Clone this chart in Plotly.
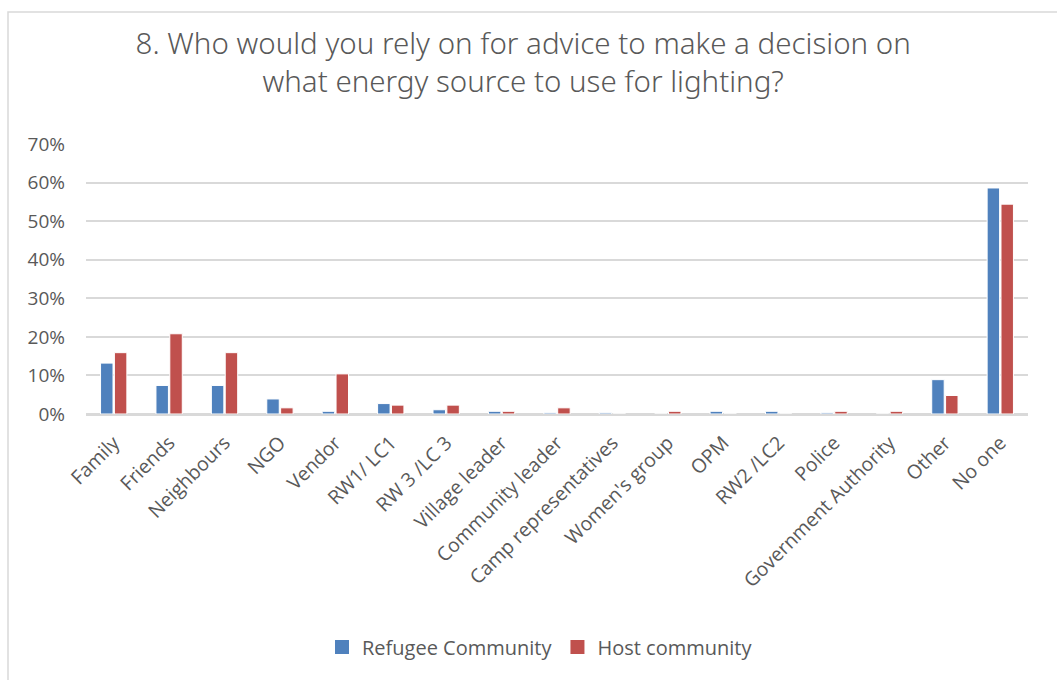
import plotly.graph_objects as go

categories = ["Family", "Friends", "Neighbours", "NGO", "Vendor", "RW1/ LC1", "RW 3 /LC 3",
              "Village leader", "Community leader", "Camp representatives", "Women's group",
              "OPM", "RW2 /LC2", "Police", "Government Authority", "Other", "No one"]
refugee = [13.2, 7.4, 7.4, 3.9, 0.7, 2.7, 1.1, 0.7, 0.3, 0.3, 0.0, 0.7, 0.7, 0.3, 0.0, 8.9, 58.6]
host = [15.9, 20.8, 15.9, 1.6, 10.4, 2.3, 2.3, 0.7, 1.6, 0.0, 0.7, 0.0, 0.0, 0.7, 0.7, 4.8, 54.4]
series_names = ["Refugee Community", "Host community"]
colors = ["#4F81BD", "#C0504D"]
yticks = [0, 10, 20, 30, 40, 50, 60, 70]

fig = go.Figure()
for name, vals, col in zip(series_names, [refugee, host], colors):
    fig.add_bar(x=categories, y=[v / 100 for v in vals], name=name, showlegend=False,
                marker=dict(color=col, line=dict(color="white", width=1)))
for name, col in zip(series_names, colors):
    fig.add_scatter(x=[None], y=[None], mode="markers", name=name,
                    marker=dict(symbol="square", size=14, color=col))

W, H = 1057, 680
l, r, t, b = 86, 29, 144, 266
fig.update_layout(
    width=W, height=H,
    margin=dict(l=l, r=r, t=t, b=b),
    paper_bgcolor="white", plot_bgcolor="white",
    barmode="group", bargap=0.5, bargroupgap=0.1,
    title=dict(text="8. Who would you rely on for advice to make a decision on<br>what energy source to use for lighting?",
               x=0.495, xanchor="center", y=1 - 54 / H, yanchor="middle",
               font=dict(family="Noto Sans", size=29.5, weight=300, color="#595959")),
    font=dict(family="Open Sans", color="#595959"),
    legend=dict(orientation="h", x=(540 - 86) / 942, xanchor="center", y=-(647 - 414) / 270, yanchor="middle",
                font=dict(family="Open Sans", size=20, color="#595959"),
                itemwidth=30, itemsizing="trace", traceorder="normal"),
    showlegend=True,
    xaxis=dict(tickangle=-45, tickfont=dict(family="Open Sans", size=19.5, color="#595959"),
               showgrid=False, showline=True, linecolor="#d9d9d9", linewidth=1.5, ticks="",
               ticklabelstandoff=8),
    yaxis=dict(range=[0, 0.7], tickvals=[v / 100 for v in yticks],
               ticktext=[f"{v}%" for v in yticks],
               tickfont=dict(family="Open Sans", size=19, color="#595959"),
               showgrid=True, gridcolor="#d9d9d9", gridwidth=1.5,
               zeroline=True, zerolinecolor="#d9d9d9", zerolinewidth=1.5,
               ticklabelstandoff=20, ticks=""),
)
pw, ph = W - l - r, H - t - b
fig.add_shape(type="rect", xref="paper", yref="paper",
              x0=(8 - l) / pw, x1=(W + 5 - l) / pw,
              y0=-(H + 5 - t - ph) / ph, y1=(H - 12 - b) / ph,
              line=dict(color="#d9d9d9", width=1.5), fillcolor="rgba(0,0,0,0)", layer="below")
fig.write_html("out.html", config={"displayModeBar": False},
               post_script="document.body.style.margin='0';document.body.style.overflow='hidden';")
